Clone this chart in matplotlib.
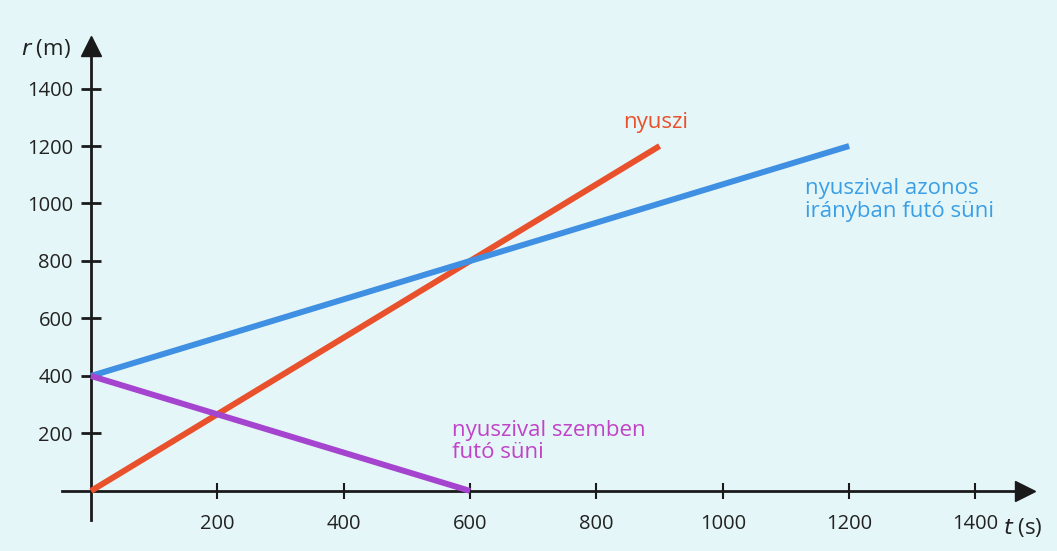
import matplotlib.pyplot as plt

plt.rcParams['font.family'] = ['Open Sans', 'DejaVu Sans']

# adatok: t (s) es r (m)
t_nyuszi = [0, 900]
r_nyuszi = [0, 1200]
t_azonos = [0, 1200]
r_azonos = [400, 1200]
t_szemben = [0, 600]
r_szemben = [400, 0]

x_ticks = [200, 400, 600, 800, 1000, 1200, 1400]
y_ticks = [200, 400, 600, 800, 1000, 1200, 1400]

piros = '#e8512b'
kek = '#3f8fe2'
lila = '#a544cf'

fig = plt.figure(figsize=(10.57, 5.51), dpi=100)
fig.patch.set_facecolor('#e5f6f8')
ax = fig.add_axes([0, 0, 1, 1])
ax.set_facecolor('#e5f6f8')
ax.set_xlim(-144, 1529)
ax.set_ylim(-209, 1708)

for s in ['top', 'right']:
    ax.spines[s].set_visible(False)
ax.spines['left'].set_position(('data', 0))
ax.spines['bottom'].set_position(('data', 0))
ax.spines['left'].set_bounds(-101, 1530)
ax.spines['bottom'].set_bounds(-46, 1465)
ax.spines['left'].set_linewidth(2)
ax.spines['bottom'].set_linewidth(2)
ax.spines['left'].set_color('#1a1a1a')
ax.spines['bottom'].set_color('#1a1a1a')

# nyilak
ax.plot(1478, 0, marker='>', markersize=15, color='#1a1a1a', clip_on=False)
ax.plot(0, 1548, marker='^', markersize=15, color='#1a1a1a', clip_on=False)

ax.set_xticks(x_ticks)
ax.set_yticks(y_ticks)
ax.tick_params(axis='y', direction='inout', length=14, width=2, pad=6,
               labelsize=14.5, colors='#1a1a1a')
ax.tick_params(axis='x', direction='inout', length=11, width=1.5, pad=11,
               labelsize=14.5, colors='#1a1a1a')
for lab in ax.get_xticklabels() + ax.get_yticklabels():
    lab.set_color('#222222')

ax.plot(t_nyuszi, r_nyuszi, color=piros, lw=4.3, solid_capstyle='butt', zorder=3)
ax.plot(t_azonos, r_azonos, color=kek, lw=4.3, solid_capstyle='butt', zorder=3)
ax.plot(t_szemben, r_szemben, color=lila, lw=4.3, solid_capstyle='butt', zorder=3)

ax.text(893, 1283, 'nyuszi', color=piros, fontsize=16, ha='center', va='center')
ax.text(1130, 1012, 'nyuszival azonos\nirányban futó süni', color='#3a9fe6',
        fontsize=16, ha='left', va='center', linespacing=1.12)
ax.text(571, 172, 'nyuszival szemben\nfutó süni', color='#c043c8',
        fontsize=16, ha='left', va='center', linespacing=1.12)

ax.text(-110, 1540, r'$\it{r}$ (m)', fontsize=16, ha='left', va='center', color='#222222')
ax.text(1443, -128, r'$\it{t}$ (s)', fontsize=16, ha='left', va='center', color='#222222')

fig.savefig('out.png', dpi=100, facecolor=fig.get_facecolor())
